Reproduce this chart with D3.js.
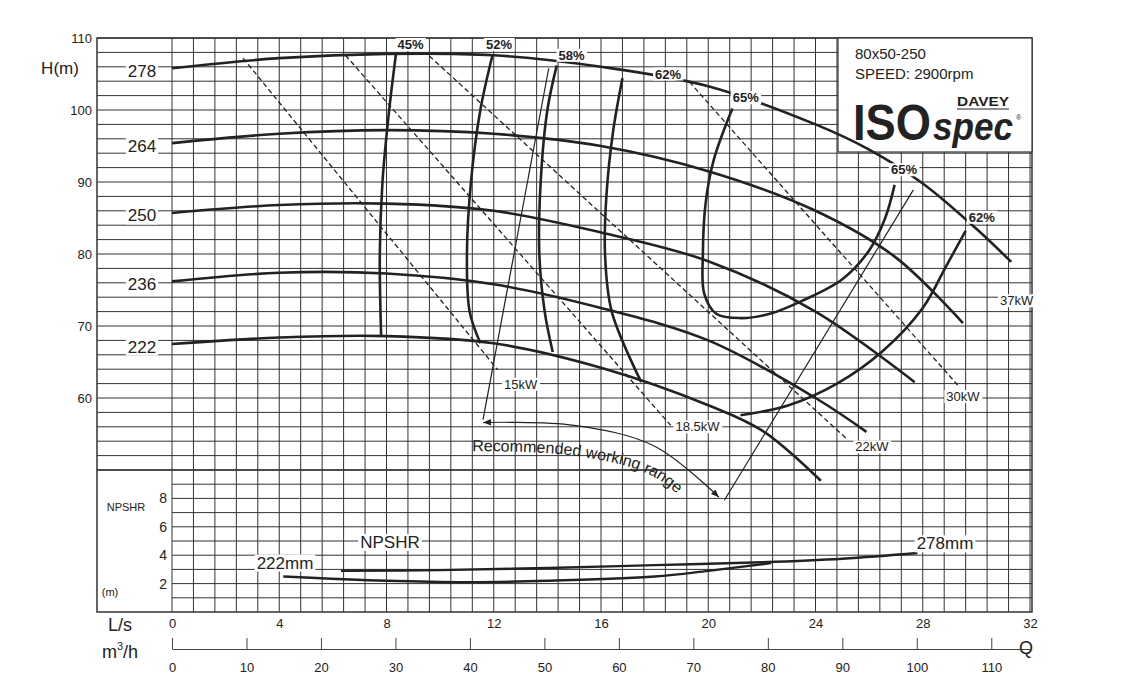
<!DOCTYPE html>
<html><head><meta charset="utf-8">
<script src="https://cdn.jsdelivr.net/npm/d3@7"></script>
<style>body{margin:0;background:#fff}text{font-family:"Liberation Sans",Arial,sans-serif;fill:#222}</style>
</head><body><svg id="c" width="1131" height="700"></svg>
<script>
// ---- data ----
const impellers = ["278","264","250","236","222"];
const headCurves = [
 [[0,105.8],[4,107.2],[8,107.8],[12,107.6],[16,106],[20,103.3],[24,98],[26,94.5],[28,89.8],[30,83.5],[31.3,78.9]],
 [[0,95.4],[4,96.7],[8,97.2],[12,96.7],[16,95],[20,91.5],[24,86],[27,79.5],[29.5,70.4]],
 [[0,85.7],[4,86.8],[8,87],[12,86],[16,83],[20,79],[24,72],[27.7,62.2]],
 [[0,76.2],[4,77.4],[8,77.3],[12,75.8],[16,72.5],[20,68],[24,60],[25.9,55.3]],
 [[0,67.5],[4,68.4],[8,68.6],[12,67.6],[16,64.2],[20,59],[22,55.5],[24.2,48.5]]
];
const effCurves = [
 [[8.35,107.7],[8.1,100],[7.85,90],[7.75,80],[7.8,68.6]],
 [[11.96,107.7],[11.5,100],[11.15,90],[11.0,80],[11.1,72],[11.5,67.6]],
 [[14.35,106.2],[14.0,100],[13.75,90],[13.7,80],[13.9,72],[14.2,66.4]],
 [[16.8,104.4],[16.45,97],[16.2,88],[16.15,80],[16.4,72],[17.5,62.2]],
 [[20.9,100.2],[20.2,93],[19.9,87],[19.8,80],[19.85,74.5],[20.3,71.7],[21.2,71.1],[22.3,71.7],[23.5,73.5],[25,76.5],[26,80.5],[26.6,85],[26.95,89.6]],
 [[29.6,83.2],[28.9,78.5],[28,72.5],[26.5,66.5],[24.8,62],[23,59],[21.2,57.6]]
];
const effLabelPos = [[8.9,109.1],[12.2,109.1],[14.9,107.6],[18.5,105],[21.4,101.7],[27.3,91.7],[30.2,85.1]];
const effLabelText = ["45%","52%","58%","62%","65%","65%","62%"];
const powerLines = [
 [[2.65,107.2],[12.15,63.9]],
 [[6.47,107.6],[18.6,56.2]],
 [[9.6,107.5],[25.2,54.2]],
 [[19.3,103.9],[29.3,61.8]]
];
const powerLabelPos = [[13.0,61.9],[19.6,56.0],[26.1,53.2],[29.5,60.2],[31.5,73.5]];
const powerLabelText = ["15kW","18.5kW","22kW","30kW","37kW"];
const rangeLines = [[[14.05,105.8],[11.6,57]],[[27.65,88.9],[20.6,45.8]]];
const rangeArc = [[11.6,56.6],[15,56.2],[18,53.3],[20.4,46.2]];
const rangeText = "Recommended working range";
const npshLabels = ["222mm","278mm"];
const npshCurves = [
 [[4.15,2.5],[8,2.2],[11,2.1],[14,2.2],[18,2.5],[20,2.9],[22.35,3.45]],
 [[6.3,2.9],[10,2.95],[14,3.1],[18,3.3],[22,3.5],[25,3.75],[27.8,4.15]]
];
const hTicks = [110,100,90,80,70,60];
const npshTicks = [8,6,4,2];
const lsTicks = [0,4,8,12,16,20,24,28,32];
const m3Ticks = [0,10,20,30,40,50,60,70,80,90,100,110];

// ---- scales ----
const svg = d3.select("#c");
const x = d3.scaleLinear([0,32],[172,1030]);
const y = d3.scaleLinear([50,110],[470,38]);
const yN = d3.scaleLinear([0,10],[612,470]);
const xm = d3.scaleLinear([0,32*3.6],[172,1030]);
const L=97,R=1032,T=38,B=612;

const g = svg.append("g").attr("stroke","#333").attr("stroke-width",1);
d3.range(0,32.01,0.8).forEach(q=>g.append("line").attr("x1",x(q)).attr("x2",x(q)).attr("y1",T).attr("y2",B));
d3.range(50,110.01,2).forEach(h=>g.append("line").attr("x1",L).attr("x2",R).attr("y1",y(h)).attr("y2",y(h)));
d3.range(1,10,1).forEach(n=>g.append("line").attr("x1",x(0)).attr("x2",R).attr("y1",yN(n)).attr("y2",yN(n)));
svg.append("rect").attr("x",L).attr("y",T).attr("width",R-L).attr("height",B-T).attr("fill","none").attr("stroke","#333").attr("stroke-width",1.5);
svg.append("line").attr("x1",L).attr("x2",R).attr("y1",y(50)).attr("y2",y(50)).attr("stroke","#333").attr("stroke-width",1.5);

svg.append("rect").attr("x",838).attr("y",T).attr("width",R-838).attr("height",114).attr("fill","#fff").attr("stroke","#333").attr("stroke-width",1.2);
svg.append("text").attr("x",855).attr("y",59).attr("font-size",15).text("80x50-250");
svg.append("text").attr("x",855).attr("y",79).attr("font-size",15).text("SPEED: 2900rpm");
svg.append("text").attr("x",853).attr("y",140).attr("font-size",50).attr("font-weight","bold").attr("textLength",78).attr("lengthAdjust","spacingAndGlyphs").text("ISO");
svg.append("text").attr("x",933).attr("y",140).attr("font-size",38).attr("font-weight","bold").attr("font-style","italic").attr("textLength",80).attr("lengthAdjust","spacingAndGlyphs").text("spec");
svg.append("text").attr("x",957).attr("y",106).attr("font-size",12).attr("font-weight","bold").attr("font-family","Liberation Serif,serif").attr("textLength",52).attr("lengthAdjust","spacingAndGlyphs").text("DAVEY");
svg.append("line").attr("x1",957).attr("x2",1009).attr("y1",109).attr("y2",109).attr("stroke","#222").attr("stroke-width",1);
svg.append("text").attr("x",1016).attr("y",120).attr("font-size",7).text("®");

const lineH = d3.line().x(d=>x(d[0])).y(d=>y(d[1])).curve(d3.curveCatmullRom);
const lineN = d3.line().x(d=>x(d[0])).y(d=>yN(d[1])).curve(d3.curveCatmullRom);

powerLines.forEach(p=>svg.append("path").attr("d",d3.line().x(d=>x(d[0])).y(d=>y(d[1]))(p)).attr("fill","none").attr("stroke","#222").attr("stroke-width",1.3).attr("stroke-dasharray","5,3"));
rangeLines.forEach(p=>svg.append("path").attr("d",d3.line().x(d=>x(d[0])).y(d=>y(d[1]))(p)).attr("fill","none").attr("stroke","#222").attr("stroke-width",1.2));
const defs = svg.append("defs");
["s","e"].forEach(k=>defs.append("marker").attr("id","m"+k).attr("viewBox","0 0 10 10").attr("refX",k=="e"?10:0).attr("refY",5).attr("markerWidth",12).attr("markerHeight",8).attr("markerUnits","userSpaceOnUse").attr("orient","auto")
  .append("path").attr("d",k=="e"?"M0,1L10,5L0,9z":"M10,1L0,5L10,9z").attr("fill","#222"));
svg.append("path").attr("d",lineH(rangeArc)).attr("fill","none").attr("stroke","#222").attr("stroke-width",1.2).attr("marker-start","url(#ms)").attr("marker-end","url(#me)");
defs.append("path").attr("id","tp").attr("d",lineH([[11.2,52.6],[15,52.0],[18,49.0],[19.9,42.6]]));
const rt = svg.append("text").attr("font-size",16).append("textPath").attr("href","#tp").text(rangeText);

headCurves.forEach(c=>svg.append("path").attr("d",lineH(c)).attr("fill","none").attr("stroke","#222").attr("stroke-width",2.6));
effCurves.forEach(c=>svg.append("path").attr("d",lineH(c)).attr("fill","none").attr("stroke","#222").attr("stroke-width",2.6));
npshCurves.forEach(c=>svg.append("path").attr("d",lineN(c)).attr("fill","none").attr("stroke","#222").attr("stroke-width",2.4));

function label(xp,yp,t,fs,opt={}){
  const tx = svg.append("text").attr("x",xp).attr("y",yp).attr("font-size",fs).attr("text-anchor",opt.anchor||"middle").attr("dominant-baseline","central").text(t);
  if(opt.bold) tx.attr("font-weight","bold");
  if(opt.bg!==false){const b=tx.node().getBBox();svg.insert("rect",()=>tx.node()).attr("x",b.x-2).attr("y",b.y+1).attr("width",b.width+4).attr("height",b.height-2).attr("fill","#fff");}
  return tx;
}
impellers.forEach((t,i)=>label(142,y(headCurves[i][0][1])+3,t,17));
effLabelText.forEach((t,i)=>label(x(effLabelPos[i][0]),y(effLabelPos[i][1]),t,13,{bold:true}));
powerLabelText.forEach((t,i)=>label(x(powerLabelPos[i][0]),y(powerLabelPos[i][1]),t,13));
label(390,yN(4.9),"NPSHR",17);
label(285,yN(3.45),npshLabels[0],17);
label(945,yN(4.8),npshLabels[1],17);

hTicks.forEach(h=>label(92,y(h),h,13,{anchor:"end",bg:false}));
label(60,68,"H(m)",17,{bg:false});
npshTicks.forEach(n=>label(167,yN(n),n,14,{anchor:"end",bg:false}));
label(126,507,"NPSHR",11,{bg:false});
label(110,592,"(m)",11,{bg:false});
const ax1 = svg.append("g").attr("transform",`translate(0,${B+3})`).call(d3.axisBottom(x).tickValues(lsTicks).tickSize(0).tickPadding(4));
ax1.select(".domain").remove();
ax1.selectAll("text").attr("font-size",13).attr("fill","#222").attr("font-family","Liberation Sans,Arial,sans-serif");
const ax2 = svg.append("g").attr("transform","translate(0,649)").call(d3.axisBottom(xm).tickValues(m3Ticks).tickSizeInner(-11).tickSizeOuter(0).tickPadding(14));
ax2.select(".domain").attr("stroke","#444");
ax2.selectAll("line").attr("stroke","#444");
ax2.selectAll("text").attr("font-size",13).attr("fill","#222").attr("font-family","Liberation Sans,Arial,sans-serif");
label(120,625,"L/s",18,{bg:false});
const m3=svg.append("text").attr("x",120).attr("y",652).attr("font-size",18).attr("text-anchor","middle").attr("dominant-baseline","central");
m3.append("tspan").text("m");m3.append("tspan").attr("font-size",11).attr("dy",-6).text("3");m3.append("tspan").attr("dy",6).text("/h");
label(1026,648,"Q",18,{bg:false});
</script></body></html>
